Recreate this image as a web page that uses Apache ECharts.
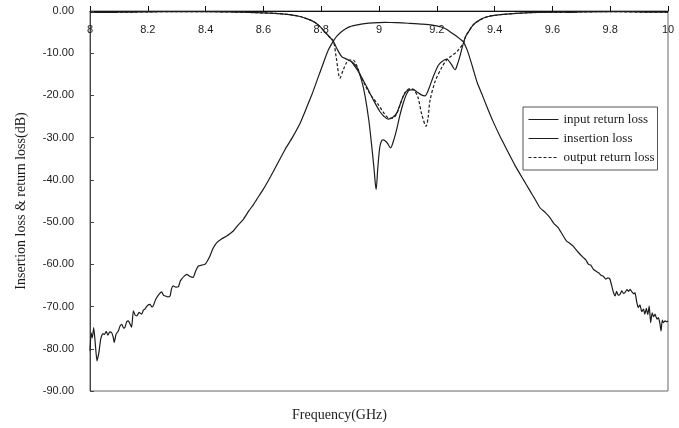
<!DOCTYPE html>
<html>
<head>
<meta charset="utf-8">
<script src="https://cdn.jsdelivr.net/npm/echarts@6/dist/echarts.min.js"></script>
<style>
  html, body { margin: 0; padding: 0; background: #fff; }
  #chart { width: 679px; height: 428px; }
</style>
</head>
<body>
<div id="chart"></div>
<script>
// Insertion loss (S21), frequency in GHz, level in dB
const freqS21 = [
  8.000, 8.004, 8.008, 8.013, 8.019, 8.024, 8.031, 8.037, 8.044, 8.050,
  8.056, 8.062, 8.068, 8.075, 8.080, 8.084, 8.090, 8.098, 8.104, 8.110,
  8.116, 8.121, 8.127, 8.133, 8.139, 8.144, 8.150, 8.156, 8.162, 8.170,
  8.179, 8.185, 8.190, 8.198, 8.208, 8.214, 8.219, 8.228, 8.240, 8.248,
  8.254, 8.260, 8.268, 8.277, 8.282, 8.288, 8.297, 8.306, 8.312, 8.317,
  8.326, 8.335, 8.346, 8.357, 8.366, 8.375, 8.386, 8.398, 8.406, 8.415,
  8.426, 8.438, 8.455, 8.473, 8.485, 8.496, 8.510, 8.530, 8.550, 8.565,
  8.577, 8.600, 8.625, 8.650, 8.675, 8.700, 8.727, 8.750, 8.770, 8.790,
  8.805, 8.815, 8.825, 8.835, 8.843, 8.855, 8.870, 8.885, 8.900, 8.925,
  8.950, 8.980, 9.020, 9.060, 9.100, 9.150, 9.190, 9.215, 9.235, 9.250,
  9.265, 9.280, 9.292, 9.305, 9.316, 9.326, 9.340, 9.355, 9.373, 9.395,
  9.419, 9.445, 9.470, 9.500, 9.520, 9.540, 9.557, 9.575, 9.592, 9.606,
  9.620, 9.635, 9.649, 9.660, 9.672, 9.690, 9.707, 9.715, 9.725, 9.733,
  9.742, 9.750, 9.760, 9.768, 9.776, 9.785, 9.792, 9.799, 9.805, 9.812,
  9.817, 9.822, 9.828, 9.834, 9.840, 9.846, 9.851, 9.858, 9.864, 9.869,
  9.876, 9.882, 9.886, 9.892, 9.897, 9.903, 9.909, 9.915, 9.920, 9.925,
  9.930, 9.935, 9.940, 9.945, 9.950, 9.955, 9.962, 9.967, 9.972, 9.976,
  9.980, 9.984, 9.990, 9.995, 10.000
];
const insertionLoss = [
  -80.5, -76.2, -77.4, -75.0, -79.4, -82.9, -80.8, -77.7, -76.4, -76.6,
  -75.9, -76.8, -76.0, -76.2, -77.2, -78.5, -76.6, -75.8, -74.6, -74.2,
  -75.1, -74.9, -73.6, -73.4, -74.2, -74.9, -71.0, -72.0, -72.2, -71.4,
  -71.8, -70.8, -70.6, -69.8, -69.5, -70.1, -69.8, -68.2, -67.0, -66.5,
  -67.3, -67.5, -67.7, -67.5, -65.8, -65.1, -65.4, -65.3, -64.0, -63.5,
  -62.8, -62.4, -62.9, -63.1, -61.5, -60.4, -60.2, -60.0, -59.2, -58.0,
  -56.2, -54.9, -54.0, -53.3, -52.7, -52.1, -50.9, -49.4, -47.3, -45.9,
  -44.6, -42.2, -39.2, -36.0, -32.8, -30.0, -26.6, -22.8, -19.4, -15.6,
  -12.8, -10.9, -9.2, -7.9, -7.0, -5.9, -4.9, -4.2, -3.7, -3.3,
  -3.0, -2.8, -2.7, -2.75, -2.9, -3.1, -3.4, -3.8, -4.4, -5.1,
  -5.8, -6.6, -7.3, -9.2, -11.5, -13.8, -17.0, -19.5, -22.6, -26.2,
  -29.7, -33.2, -36.5, -40.0, -42.3, -44.6, -46.6, -47.7, -49.0, -50.4,
  -51.3, -53.0, -54.5, -55.0, -55.7, -57.2, -58.4, -58.9, -60.0, -60.2,
  -61.2, -61.6, -62.0, -62.6, -62.8, -63.5, -63.2, -63.5, -65.0, -66.8,
  -67.5, -66.4, -67.3, -67.1, -66.3, -66.9, -66.7, -66.0, -66.4, -65.9,
  -66.6, -67.0, -66.7, -69.0, -70.2, -69.6, -71.2, -70.6, -71.8, -70.4,
  -71.9, -69.9, -73.8, -71.5, -72.4, -71.8, -73.0, -72.6, -74.0, -75.8,
  -73.2, -73.8, -73.4, -73.6, -73.4
];

// Input return loss (S11)
const freqIn = [
  8.00, 8.05, 8.10, 8.15, 8.20, 8.30, 8.40, 8.50, 8.55, 8.60,
  8.65, 8.69, 8.727, 8.761, 8.780, 8.796, 8.812, 8.828, 8.842, 8.855,
  8.871, 8.888, 8.905, 8.923, 8.940, 8.952, 8.965, 8.975, 8.983, 8.990,
  8.996, 9.003, 9.010, 9.015, 9.022, 9.029, 9.040, 9.050, 9.061, 9.072,
  9.084, 9.096, 9.107, 9.120, 9.130, 9.145, 9.159, 9.172, 9.188, 9.205,
  9.217, 9.234, 9.250, 9.263, 9.272, 9.282, 9.292, 9.300, 9.309, 9.326,
  9.349, 9.378, 9.430, 9.520, 9.640, 9.660, 9.700, 9.800, 9.900, 9.950,
  10.00
];
const inputReturnLoss = [
  -0.3, -0.35, -0.3, -0.25, -0.2, -0.15, -0.15, -0.25, -0.35, -0.45,
  -0.6, -0.85, -1.3, -2.1, -2.8, -3.7, -4.9, -6.1, -7.2, -9.0,
  -10.8, -11.4, -12.0, -13.2, -16.5, -20.2, -26.0, -32.1, -37.5, -42.3,
  -37.0, -32.1, -30.6, -30.5, -30.8, -31.3, -32.4, -30.8, -28.1, -24.8,
  -21.8, -19.6, -18.7, -18.7, -19.1, -19.8, -20.1, -18.5, -15.5, -12.9,
  -12.0, -11.4, -12.6, -13.9, -12.5, -10.2, -7.6, -6.0, -5.0, -3.3,
  -2.1, -1.3, -0.8, -0.4, -0.3, -0.35, -0.2, -0.15, -0.2, -0.3,
  -0.3
];

// Second input-side trace through the passband
const freqTrace = [
  8.905, 8.930, 8.957, 8.980, 9.003, 9.018, 9.032, 9.046, 9.061, 9.072,
  9.084, 9.096, 9.107
];
const returnTrace = [
  -12.0, -14.5, -17.9, -21.0, -23.8, -25.0, -25.6, -25.3, -24.2, -22.3,
  -20.2, -18.9, -18.6
];

// Output return loss (S22)
const freqOut = [
  8.00, 8.05, 8.10, 8.15, 8.20, 8.30, 8.40, 8.50, 8.55, 8.60,
  8.65, 8.69, 8.727, 8.761, 8.780, 8.796, 8.812, 8.828, 8.842, 8.852,
  8.865, 8.876, 8.888, 8.900, 8.911, 8.922, 8.934, 8.950, 8.963, 8.980,
  8.998, 9.015, 9.032, 9.047, 9.061, 9.075, 9.090, 9.107, 9.120, 9.135,
  9.148, 9.163, 9.170, 9.176, 9.194, 9.217, 9.234, 9.251, 9.270, 9.292,
  9.300, 9.309, 9.326, 9.349, 9.378, 9.430, 9.520, 9.640, 9.800, 9.950,
  10.00
];
const outputReturnLoss = [
  -0.3, -0.35, -0.3, -0.25, -0.2, -0.15, -0.15, -0.25, -0.35, -0.45,
  -0.6, -0.85, -1.3, -2.1, -2.8, -3.7, -4.9, -6.1, -7.1, -11.0,
  -15.9, -14.0, -12.2, -11.6, -11.6, -12.8, -15.0, -17.3, -19.0, -20.7,
  -22.2, -24.0, -25.3, -25.4, -24.4, -21.8, -19.3, -18.4, -18.6, -20.5,
  -24.5, -27.3, -25.2, -21.4, -16.7, -13.4, -11.6, -10.6, -9.6, -7.6,
  -6.0, -5.0, -3.3, -2.1, -1.3, -0.8, -0.4, -0.3, -0.15, -0.3,
  -0.3
];

const zip = (xs, ys) => xs.map((x, i) => [x, ys[i]]);

const serifFont = '"Liberation Serif", "Times New Roman", serif';
const sansFont = '"Liberation Sans", Arial, sans-serif';
const ink = '#1c1c1c';
const curveWidth = 1.2;

const chart = echarts.init(document.getElementById('chart'), null, { renderer: 'canvas' });

chart.setOption({
  animation: false,
  backgroundColor: '#fff',
  grid: {
    left: 90, right: 11, top: 11, bottom: 37,
    show: true, borderColor: '#666', borderWidth: 1, backgroundColor: 'transparent'
  },
  legend: {
    data: ['input return loss', 'insertion loss', 'output return loss'],
    orient: 'vertical',
    left: 523, top: 107,
    padding: [6, 3, 6, 5],
    itemGap: 6,
    itemWidth: 30, itemHeight: 14,
    backgroundColor: '#fff',
    borderColor: '#555', borderWidth: 1,
    itemStyle: { opacity: 0 },
    lineStyle: { width: 1, opacity: 1 },
    textStyle: { fontFamily: serifFont, fontSize: 13, color: ink },
    selectedMode: false
  },
  xAxis: {
    type: 'value',
    position: 'top',
    min: 8, max: 10, interval: 0.2,
    axisLine: { show: true, onZero: false, lineStyle: { color: '#111', width: 1 } },
    axisTick: { show: true, inside: false, length: 5, lineStyle: { color: '#111' } },
    axisLabel: {
      inside: true, margin: 13, color: ink,
      fontFamily: sansFont, fontSize: 11,
      formatter: v => String(Math.round(v * 10) / 10)
    },
    splitLine: { show: false }
  },
  yAxis: {
    type: 'value',
    min: -90, max: 0, interval: 10,
    axisLine: { show: true, onZero: false, lineStyle: { color: '#444', width: 1 } },
    axisTick: { show: true, inside: true, length: 4, lineStyle: { color: '#444' } },
    axisLabel: {
      margin: 16, color: ink, fontFamily: sansFont, fontSize: 11,
      formatter: v => v.toFixed(2)
    },
    splitLine: { show: false }
  },
  graphic: [
    {
      type: 'text', left: 'center', top: 408,
      style: { text: 'Frequency(GHz)', font: '14px ' + serifFont, fill: ink },
      x: 8
    },
    {
      type: 'text', x: 21, y: 201, rotation: Math.PI / 2,
      style: {
        text: 'Insertion loss & return loss(dB)', font: '14px ' + serifFont,
        fill: ink, align: 'center', verticalAlign: 'middle'
      }
    }
  ],
  series: [
    {
      name: 'input return loss', type: 'line', symbol: 'none', smooth: 0.3,
      data: zip(freqIn, inputReturnLoss),
      lineStyle: { color: ink, width: curveWidth }, itemStyle: { color: ink }, z: 3
    },
    {
      name: 'insertion loss', type: 'line', symbol: 'none', smooth: 0.15,
      data: zip(freqS21, insertionLoss),
      lineStyle: { color: ink, width: curveWidth }, itemStyle: { color: ink }, z: 3
    },
    {
      name: 'output return loss', type: 'line', symbol: 'none', smooth: 0.3,
      data: zip(freqOut, outputReturnLoss),
      lineStyle: { color: ink, width: curveWidth, type: [3, 2] }, itemStyle: { color: ink }, z: 3
    },
    {
      name: 'input trace', type: 'line', symbol: 'none', smooth: 0.3,
      data: zip(freqTrace, returnTrace),
      lineStyle: { color: ink, width: curveWidth }, itemStyle: { color: ink }, z: 3
    }
  ]
});
</script>
</body>
</html>
